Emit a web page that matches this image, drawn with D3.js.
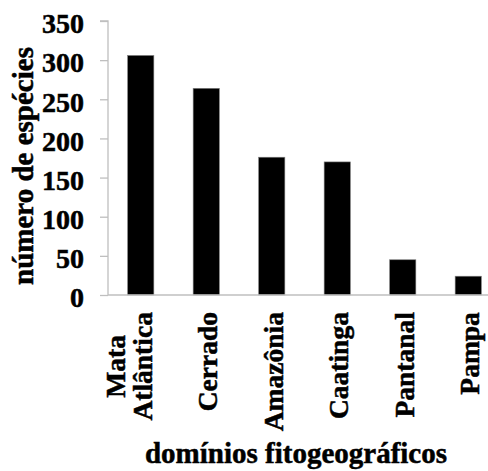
<!DOCTYPE html>
<html>
<head>
<meta charset="utf-8">
<script src="https://cdn.jsdelivr.net/npm/d3@7"></script>
<style>
  body { margin: 0; background: #fff; }
  svg text { stroke: #000; stroke-width: 0.5px; }
</style>
</head>
<body>
<svg id="chart" width="488" height="471"></svg>
<script>
// domínios and species counts
const domains = [["Mata", "Atlântica"], ["Cerrado"], ["Amazônia"], ["Caatinga"], ["Pantanal"], ["Pampa"]]
const counts = [306, 264, 176, 170, 45, 24]
const yTicks = [0, 50, 100, 150, 200, 250, 300, 350]

const font = '"Liberation Serif"'
const svg = d3.select("#chart")
const mLeft = 108, mBottom = 295, mTop = 21, mRight = 501

const names = domains.map(d => d.join(" "))
const x = d3.scaleBand().domain(names).range([mLeft, mRight]).paddingInner(0.6).paddingOuter(0.3)
const y = d3.scaleLinear().domain([0, 350]).range([mBottom, mTop])

// y axis
const yAxis = svg.append("g")
  .attr("transform", `translate(${mLeft},0)`)
  .call(d3.axisLeft(y).tickValues(yTicks).tickSize(8).tickPadding(16))
yAxis.attr("font-family", null).attr("font-size", null)
yAxis.selectAll("path, line").attr("stroke", "#bfbfbf").attr("stroke-width", 1.3)
yAxis.select(".domain").attr("d", `M-8,${mTop}H0V${mBottom}`)
yAxis.selectAll("text")
  .style("font-family", font).style("font-weight", "bold").style("font-size", "28px")
  .attr("fill", "#000").attr("dy", "0.42em")

// bars
svg.selectAll("rect.bar").data(counts).join("rect")
  .attr("class", "bar")
  .attr("x", (d, i) => x(names[i]))
  .attr("y", d => y(d))
  .attr("width", x.bandwidth())
  .attr("height", d => y(0) - y(d))
  .attr("fill", "#000")
  .attr("stroke", "#7f7f7f")
  .attr("stroke-width", 0.6)

// baseline
svg.append("line")
  .attr("x1", mLeft).attr("x2", 488)
  .attr("y1", mBottom).attr("y2", mBottom)
  .attr("stroke", "#bfbfbf").attr("stroke-width", 1.3)

// category labels, rotated; lines of one label are centred on each other
const lab = svg.append("g")
domains.forEach((lines, i) => {
  const cx = x(names[i]) + x.bandwidth() / 2
  const g = lab.append("g").attr("transform", `translate(0,312) rotate(-90)`)
  const txt = g.append("text")
    .style("font-family", font).style("font-weight", "bold").style("font-size", "27.5px")
    .attr("fill", "#000")
  lines.forEach((t, j) => {
    txt.append("tspan")
      .attr("x", 0)
      .attr("y", cx + 11 + (j - (lines.length - 1)) * 27)
      .text(t)
  })
  // right-align the block (towards the axis), centre lines on each other
  const bw = txt.node().getBBox().width
  txt.selectAll("tspan").each(function () {
    const w = this.getComputedTextLength()
    d3.select(this).attr("x", -bw + (bw - w) / 2)
  })
})

// axis titles
svg.append("text")
  .attr("transform", "translate(33,166) rotate(-90)")
  .attr("text-anchor", "middle")
  .style("font-family", font).style("font-weight", "bold").style("font-size", "29px")
  .text("número de espécies")

svg.append("text")
  .attr("x", 296).attr("y", 463)
  .attr("text-anchor", "middle")
  .style("font-family", font).style("font-weight", "bold").style("font-size", "29px")
  .text("domínios fitogeográficos")
</script>
</body>
</html>
